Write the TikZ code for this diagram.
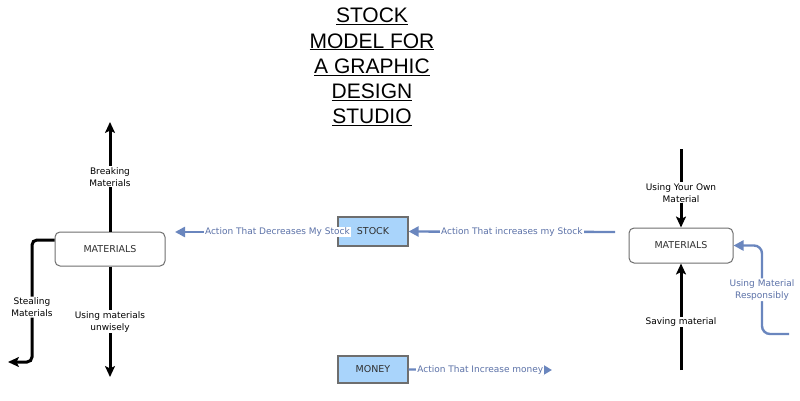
\documentclass[tikz,border=0pt]{standalone}
\usepackage{fontspec}
\setmainfont{DejaVu Sans}
\newfontfamily\titlefont{Liberation Sans}
\usetikzlibrary{arrows.meta}
\definecolor{flowblue}{HTML}{6A86BE}
\definecolor{labelblue}{HTML}{5C72A8}
\definecolor{stockfill}{HTML}{A9D4FB}
\definecolor{boxgray}{HTML}{6E6E6E}
\definecolor{txtgray}{HTML}{303030}
\begin{document}
\begin{tikzpicture}[x=1pt,y=-1pt,
  matbox/.style={draw=boxgray, line width=1pt, rounded corners=5pt, fill=white,
    font=\fontsize{9.5}{10}\selectfont, text=txtgray, inner sep=0pt},
  stockbox/.style={draw=boxgray, fill=stockfill, line width=1.2pt, inner sep=0pt,
    minimum width=70pt, font=\fontsize{9.5}{10}\selectfont, text=txtgray},
  flowblack/.style={line width=3pt, draw=black, -{Stealth[length=11pt,width=10pt,inset=2.5pt]}},
  blueflow/.style={line width=2.4pt, draw=flowblue, -{Triangle[length=10pt,width=10pt]}},
  lbl/.style={fill=white, align=center, inner sep=1pt, text=black,
    font=\fontsize{9}{12}\selectfont},
  blbl/.style={fill=white, align=center, inner sep=1pt, text=labelblue,
    font=\fontsize{9}{12}\selectfont},
]
\useasboundingbox (0,0) rectangle (800,401);

% title
\node[align=center, font=\titlefont\fontsize{21}{25.2}\selectfont, inner sep=0pt] (title) at (372,67)
  {\underline{STOCK}\\\underline{MODEL FOR}\\\underline{A GRAPHIC}\\\underline{DESIGN}\\\underline{STUDIO}};

% left materials
\node[matbox, minimum width=110pt, minimum height=34pt] (mL) at (110,249) {MATERIALS};
\coordinate (bkEnd) at (110,122);
\coordinate (unEnd) at (110,377);
\coordinate (stEnd) at (8,362);
\draw[flowblack] (mL.north) -- node[lbl]{Breaking\\Materials} (bkEnd);
\draw[flowblack] (mL.south) -- node[lbl, pos=0.5]{Using materials\\unwisely} (unEnd);
\draw[flowblack, rounded corners=5pt] ([yshift=9pt]mL.west) -- (32,240) -- node[lbl, pos=0.55]{Stealing\\Materials} (32,362) -- (stEnd);

% stock
\node[stockbox, minimum height=29pt] (stock) at (373,231.5) {STOCK};
\node[blbl, anchor=east] (decT) at (351,232) {Action That Decreases My Stock};
\coordinate (decEnd) at (175,232);
\draw[blueflow] (decT.west) -- (decEnd);
\coordinate (incStart) at (615,232);
\draw[blueflow] (incStart) -- node[blbl, pos=0.5]{Action That increases my Stock} (stock.east);

% money
\node[stockbox, minimum height=27pt] (money) at (373,369.5) {MONEY};
\coordinate (monEnd) at (552,370);
\draw[line width=2.4pt, draw=flowblue, -{Triangle[length=9pt,width=10pt]}] (money.east) -- node[blbl, pos=0.5]{Action That Increase money} (monEnd);

% right materials
\node[matbox, minimum width=104pt, minimum height=35pt] (mR) at (681,245.5) {MATERIALS};
\coordinate (ownStart) at (681,149);
\coordinate (savStart) at (681,370);
\coordinate (respStart) at (789,334);
\draw[flowblack] (ownStart) -- node[lbl, pos=0.56]{Using Your Own\\Material} (mR.north);
\draw[flowblack] (savStart) -- node[lbl, pos=0.45]{Saving material} (mR.south);
\draw[blueflow, rounded corners=8pt] (respStart) -- (762,334) -- node[blbl, pos=0.5]{Using Material\\Responsibly} (762,245.5) -- (mR.east);
\end{tikzpicture}
\end{document}
